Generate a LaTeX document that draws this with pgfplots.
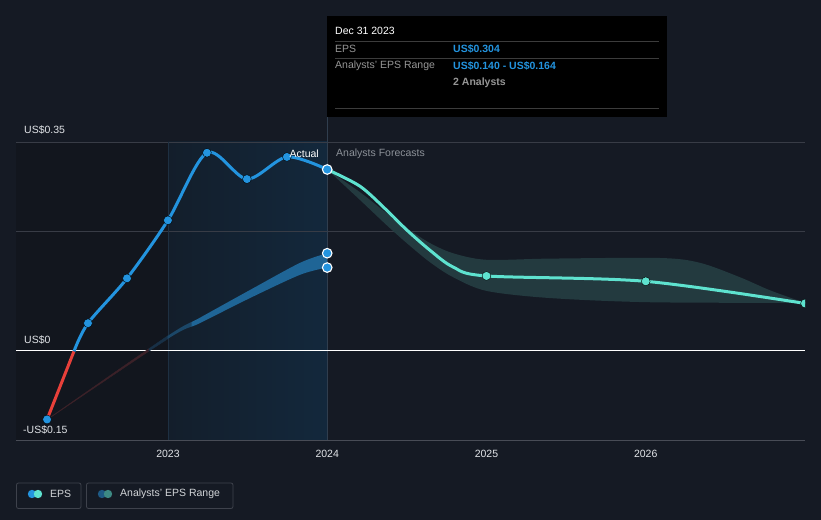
\documentclass[border=0pt]{standalone}
\usepackage{fontspec}
\setmainfont{Liberation Sans}
\usepackage{pgfplots}
\pgfplotsset{compat=1.18}
\usepgfplotslibrary{fillbetween}
\tikzset{fill between/on layer=main}
\definecolor{bg}{RGB}{21,26,36}
\definecolor{leftreg}{RGB}{18,22,30}
\definecolor{hlA}{RGB}{19,30,43}
\definecolor{hlB}{RGB}{19,40,60}
\definecolor{gridc}{RGB}{56,60,70}
\definecolor{axc}{RGB}{72,76,86}
\definecolor{epsblue}{RGB}{35,148,223}
\definecolor{teal}{RGB}{94,226,207}
\definecolor{negred}{RGB}{232,64,58}
\definecolor{bandblue}{RGB}{31,101,150}
\definecolor{bandteal}{RGB}{35,58,63}
\definecolor{txtc}{RGB}{225,228,232}
\definecolor{grayt}{RGB}{140,145,152}
\definecolor{ttgray}{RGB}{150,150,150}
\definecolor{ttline}{RGB}{60,60,60}
\definecolor{legc}{RGB}{62,66,76}
\definecolor{legbA}{RGB}{30,90,133}
\definecolor{legbB}{RGB}{61,138,132}
\newcommand{\fs}{\fontsize{10.5bp}{12bp}\selectfont}
\begin{document}
\begin{tikzpicture}[x=1bp,y=1bp]
% background and regions
\fill[bg] (0,0) rectangle (821,520);
\fill[leftreg] (16,79) rectangle (168,378);
\shade[left color=hlA, right color=hlB] (168,79) rectangle (327,378);
\draw[gridc, line width=0.8bp] (16,378) -- (805,378);
\draw[gridc, line width=0.8bp] (16,289) -- (805,289);
\draw[color={rgb,255:red,30;green,48;blue,66}, line width=0.8bp] (168,79) -- (168,378);
\draw[color={rgb,255:red,48;green,62;blue,78}, line width=0.8bp] (327,79) -- (327,403);
\draw[axc, line width=1bp] (16,79) -- (805,79);
\draw[white, line width=1bp] (16,169) -- (805,169);
\begin{axis}[
  at={(16bp,79bp)}, anchor=south west,
  scale only axis, width=789bp, height=299bp,
  xmin=2022.046, xmax=2027.0, ymin=-0.15, ymax=0.35,
  axis line style={draw=none},
  ytick=\empty,
  xtick={2023,2024,2025,2026},
  xticklabels={2023,2024,2025,2026},
  tick align=outside, major tick length=5bp,
  xtick style={draw=axc, line width=0.8bp},
  xticklabel style={font=\fs, text=txtc, yshift=-1bp},
  clip marker paths=true,
]
% historical analysts' range band
\addplot[name path=hu, draw=none, smooth] coordinates {
 (2022.241,-0.114) (2023.0,0.026) (2023.2,0.056) (2023.515,0.1025) (2023.83,0.148) (2024.0,0.164)};
\addplot[name path=hl, draw=none, smooth] coordinates {
 (2022.241,-0.1145) (2023.0,0.021) (2023.2,0.047) (2023.515,0.089) (2023.83,0.128) (2024.0,0.140)};
\addplot[fill=negred!18!bg, draw=negred!18!bg, line width=0.4bp] fill between[of=hu and hl, soft clip={domain=2022.2:2022.88}];
\addplot[fill=bandblue!30!bg, draw=bandblue!30!bg, line width=0.4bp] fill between[of=hu and hl, soft clip={domain=2022.88:2023.0}];
\addplot[fill=bandblue!60!bg, draw=none] fill between[of=hu and hl, soft clip={domain=2022.998:2023.15}];
\addplot[fill=bandblue, draw=none] fill between[of=hu and hl, soft clip={domain=2023.148:2024.1}];
% forecast band
\addplot[name path=fu, draw=none, smooth] coordinates {
 (2024.0,0.304) (2024.206,0.266) (2024.373,0.231) (2024.499,0.206) (2024.645,0.181) (2024.79,0.164)
 (2025.0,0.153) (2025.40,0.155) (2026.09,0.156) (2026.34,0.148) (2026.59,0.124) (2026.78,0.102) (2027.0,0.081)};
\addplot[name path=fl, draw=none, smooth] coordinates {
 (2024.0,0.304) (2024.206,0.253) (2024.373,0.211) (2024.499,0.181) (2024.645,0.149) (2024.79,0.124)
 (2025.0,0.101) (2025.40,0.089) (2026.03,0.082) (2027.0,0.081)};
\addplot[fill=bandteal, draw=none] fill between[of=fu and fl];
% forecast line
\addplot[teal, line width=3bp, smooth] coordinates {
 (2024.0,0.304) (2024.206,0.276) (2024.373,0.236) (2024.499,0.203) (2024.645,0.169) (2024.79,0.141)
 (2025.0,0.126) (2026.0,0.117) (2027.0,0.080)};
\addplot[only marks, mark=*, mark size=4.4bp, mark options={fill=teal, draw=none}] coordinates {
 (2025.0,0.126) (2026.0,0.117) (2027.0,0.080)};
% actual EPS line
\addplot[negred, line width=3bp] coordinates {(2022.241,-0.114) (2022.41,0)};
\addplot[epsblue, line width=3bp, smooth, tension=0.5] coordinates {
 (2022.41,0) (2022.498,0.047) (2022.743,0.122) (2023.0,0.219) (2023.245,0.332)
 (2023.496,0.288) (2023.747,0.325) (2024.0,0.304)};
\addplot[only marks, mark=*, mark size=4.4bp, mark options={fill=epsblue, draw=none}] coordinates {
 (2022.241,-0.114) (2022.498,0.047) (2022.743,0.122) (2023.0,0.219) (2023.245,0.332)
 (2023.496,0.288) (2023.747,0.325)};
\addplot[only marks, mark=*, mark size=4.8bp, mark options={fill=epsblue, draw=white, line width=1.1bp}] coordinates {
 (2024.0,0.304) (2024.0,0.164) (2024.0,0.140)};
\end{axis}
% axis texts
\node[anchor=west, text=txtc, font=\fs, inner sep=0] at (24,390) {US\$0.35};
\node[anchor=west, text=txtc, font=\fs, inner sep=0] at (24,180) {US\$0};
\node[anchor=west, text=txtc, font=\fs, inner sep=0] at (23,90) {-US\$0.15};
\node[anchor=east, text=white, font=\fs, inner sep=0] at (319,366) {Actual};
\node[anchor=west, text=grayt, font=\fs, inner sep=0] at (336,366) {Analysts Forecasts};
% tooltip
\fill[black] (327,403) rectangle (667,504);
\draw[ttline, line width=0.8bp] (335,479) -- (659,479);
\draw[ttline, line width=0.8bp] (335,462) -- (659,462);
\draw[ttline, line width=0.8bp] (335,412) -- (659,412);
\node[anchor=west, text=white, font=\fs, inner sep=0] at (335,489) {Dec 31 2023};
\node[anchor=west, text=ttgray, font=\fs, inner sep=0] at (335,471) {EPS};
\node[anchor=west, text=epsblue, font=\fs\bfseries, inner sep=0] at (453,471) {US\$0.304};
\node[anchor=west, text=ttgray, font=\fs, inner sep=0] at (335,454) {Analysts' EPS Range};
\node[anchor=west, text=epsblue, font=\fs\bfseries, inner sep=0] at (453,454) {US\$0.140 - US\$0.164};
\node[anchor=west, text=ttgray, font=\fs\bfseries, inner sep=0] at (453,437) {2 Analysts};
% legend
\draw[legc, line width=0.8bp, rounded corners=2bp] (16.5,11.5) rectangle (81,37);
\fill[epsblue] (32,26) circle (4.2);
\fill[teal] (38,26) circle (4.2);
\node[anchor=west, text=txtc!85!gray, font=\fs, inner sep=0] at (50,26) {EPS};
\draw[legc, line width=0.8bp, rounded corners=2bp] (86.5,11.5) rectangle (233,37);
\fill[legbA] (102,26) circle (4.2);
\fill[legbB] (108,26) circle (4.2);
\node[anchor=west, text=txtc!85!gray, font=\fs, inner sep=0] at (120,26) {Analysts' EPS Range};
\end{tikzpicture}
\end{document}
